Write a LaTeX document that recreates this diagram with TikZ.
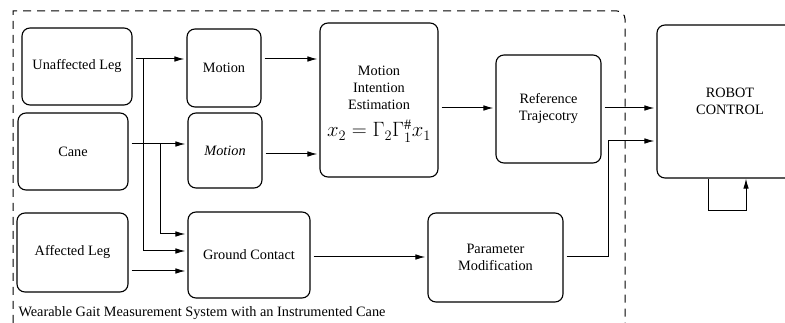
\documentclass[tikz,border=0pt]{standalone}
\usepackage{fontspec}
\setmainfont{Liberation Serif}
\usepackage{amsmath,amssymb}
\usetikzlibrary{arrows.meta}

\begin{document}
\begin{tikzpicture}[x=1pt, y=-1pt,
  font=\fontsize{14.3}{17}\selectfont,
  box/.style={draw, line width=1.1pt, rounded corners=8pt, align=center, inner sep=0pt},
  arr/.style={line width=1pt, shorten <=3pt, shorten >=2pt, -{Latex[length=10pt,width=5.5pt]}},
  arrb/.style={line width=1pt, shorten >=2pt, -{Latex[length=10pt,width=5.5pt]}}]

\useasboundingbox (0,0) rectangle (785,323);

% -------- dashed frame of the measurement system -----------
\draw [line width=1pt, dash pattern=on 8pt off 6pt] (13,323) -- (13,11) -- (600,11) [rounded corners=8pt] -- (625,11) -- (625,323);
\node [anchor=west] (cap) at (15,313) {Wearable Gait Measurement System with an Instrumented Cane};

% -------- blocks -----------
\node [box, minimum width=110, minimum height=77] (ul)   at (77,66.5)   {Unaffected Leg};
\node [box, minimum width=110, minimum height=77] (cane) at (73,151.5)  {Cane};
\node [box, minimum width=111, minimum height=79] (al)   at (72.5,252.5) {Affected Leg};
\node [box, minimum width=74, minimum height=78]  (mot1) at (224,68)    {Motion};
\node [box, minimum width=74, minimum height=75]  (mot2) at (225,150.5) {\itshape Motion};
\node [box, minimum width=122, minimum height=86] (gc)   at (249,255)   {Ground Contact};
\node [box, minimum width=118, minimum height=154] (mie) at (379,100) {};
\node [align=center, inner sep=0pt] (miet) at (379,88) {Motion\\Intention\\Estimation};
\node [inner sep=0pt] (mieq) at (379,131) {\fontsize{20.74}{24}\selectfont$x_2 = \Gamma_2\Gamma_1^{\#}x_1$};
\node [box, minimum width=105, minimum height=108] (rt)  at (548.5,109) {Reference\\Trajecotry};
\node [box, minimum width=135, minimum height=89] (pm)   at (495.5,257.5) {Parameter\\Modification};
\node [box, minimum width=146, minimum height=153] (rc)  at (730,101.5) {ROBOT\\CONTROL};

% -------- rows of the connectors -----------
\coordinate (r1) at (0,59);
\coordinate (r2) at (0,144);
\coordinate (r3) at (0,154);
\coordinate (r4) at (0,234);
\coordinate (r5) at (0,251);
\coordinate (r6) at (0,271);
\coordinate (r7) at (0,257);
\coordinate (r8) at (0,108);
\coordinate (b1) at (143,59);
\coordinate (b2) at (160,144);
\coordinate (k)  at (608,141);
\coordinate (fb1) at (708,211);
\coordinate (fb2) at (746,211);

\draw [arr] (ul.east |- r1) -- (mot1.west |- r1);
\draw [arr] (cane.east |- r2) -- (mot2.west |- r2);
\draw [arr] (al.east |- r6) -- (gc.west |- r6);
\draw [arrb] (b1) |- (gc.west |- r5);
\draw [arrb] (b2) |- (gc.west |- r4);
\draw [arr] (mot1.east |- r1) -- (mie.west |- r1);
\draw [arr] (mot2.east |- r3) -- (mie.west |- r3);
\draw [arr] (gc.east |- r7) -- (pm.west |- r7);
\draw [arr] (mie.east |- r8) -- (rt.west |- r8);
\draw [arr] (rt.east |- r8) -- (rc.west |- r8);
\draw [arr] (pm.east |- r7) -| (k) -- (rc.west |- k);
\draw [arrb, shorten >=0pt] (rc.south -| fb1) -- (fb1) -- (fb2) -- (rc.south -| fb2);

\end{tikzpicture}
\end{document}
